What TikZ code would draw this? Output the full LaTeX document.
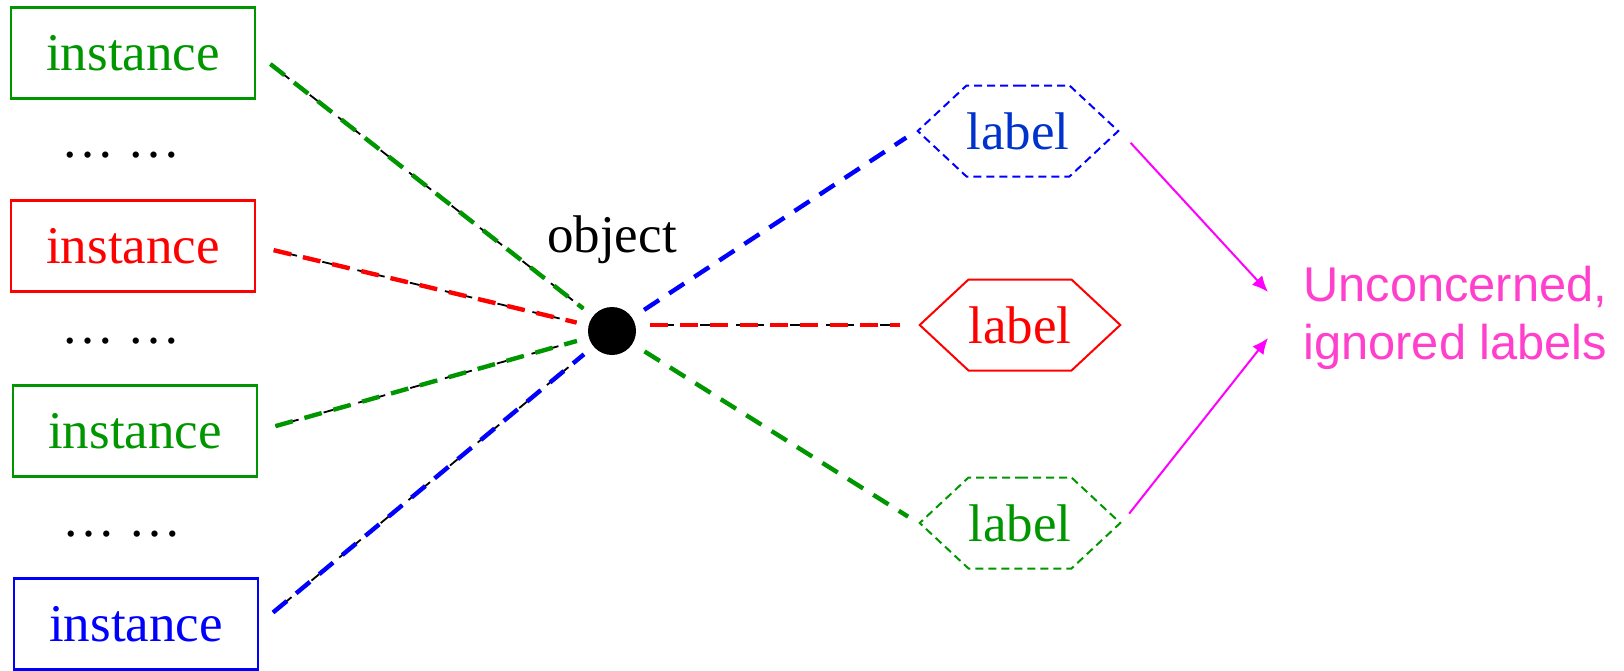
\documentclass[tikz,border=0pt]{standalone}
\usepackage{fontspec}
\setmainfont{Liberation Serif}
\newfontfamily\notefont{Liberation Sans}
\usetikzlibrary{shapes.symbols,arrows.meta,positioning}

\definecolor{insgreen}{RGB}{0,150,0}
\definecolor{insblue}{RGB}{0,0,255}
\definecolor{insred}{RGB}{255,0,0}
\definecolor{lblblue}{RGB}{0,51,204}
\definecolor{arrowpink}{RGB}{255,0,255}
\definecolor{notepink}{RGB}{255,64,204}

\tikzset{
  instbox/.style={draw=#1, text=#1, line width=1.2pt, minimum width=122pt, minimum height=45.5pt, inner sep=0pt},
  lblhex/.style={signal, signal to=east and west, signal pointer angle=86, draw=#1, line width=1pt, minimum width=99pt, minimum height=45.5pt, inner sep=0pt},
  tie/.style={dash pattern=on 9pt off 6pt, line width=2.2pt},
  under/.style={black, dash pattern=on 5pt off 4pt, dash phase=2pt, line width=0.9pt},
  pointer/.style={arrowpink, line width=1pt, -{Latex[length=8pt,width=7pt]}},
}

\begin{document}
\begin{tikzpicture}[x=0.5pt, y=-0.5pt, font=\fontsize{26.5pt}{30pt}\selectfont]
    \useasboundingbox (0,0) rectangle (1624,670);

    % Instances
    \node[instbox=insgreen] (insta) at (133,53) {instance};
    \node[instbox=insred] (instb) at (133,246) {instance};
    \node[instbox=insgreen] (instc) at (135,431) {instance};
    \node[instbox=insblue] (instd) at (136,624) {instance};

    % Dots between instances
    \node[anchor=base, inner sep=0pt] (dotsa) at (121,157) {\ldots\ \ldots};
    \node[anchor=base, inner sep=0pt] (dotsb) at (121,343) {\ldots\ \ldots};
    \node[anchor=base, inner sep=0pt] (dotsc) at (122,536) {\ldots\ \ldots};

    % Object
    \node[circle, fill=black, minimum size=24pt, inner sep=0pt] (obj) at (612,331) {};
    \node[above=21pt of obj, inner sep=0pt] (objname) {object};

    % Instances to object
    \foreach \src/\col in {insta/insgreen, instb/insred, instc/insgreen, instd/insblue}
    {
        \draw[under, shorten <=9pt, shorten >=6pt] (\src.east) -- (obj);
        \draw[tie, \col, shorten <=9pt, shorten >=6pt] (\src.east) -- (obj);
    }

    % Labels
    \node[lblhex=insblue, dash pattern=on 4pt off 2.5pt, text=lblblue] (lbla) at (1018,131) {label};
    \node[lblhex=insred, text=insred] (lblb) at (1020,325) {label};
    \node[lblhex=insgreen, dash pattern=on 4pt off 2.5pt, text=insgreen] (lblc) at (1020,523) {label};

    % Object to labels
    \draw[tie, insblue, shorten <=7pt, shorten >=6pt] (obj) -- (lbla.west);
    \draw[under, shorten <=7pt, shorten >=9pt] (obj.east |- lblb.west) -- (lblb.west);
    \draw[tie, insred, shorten <=7pt, shorten >=9pt] (obj.east |- lblb.west) -- (lblb.west);
    \draw[tie, insgreen, shorten <=7pt, shorten >=6pt] (obj) -- (lblc.west);

    % Note on ignored labels
    \node[anchor=west, align=left, inner sep=0pt, text=notepink, font=\notefont\fontsize{24.4pt}{29pt}\selectfont] (note) at (1303,318) {Unconcerned,\\ignored labels};
    \coordinate (tipa) at ([shift={(-35,-26)}]note.west);
    \coordinate (tipb) at ([shift={(-35,20)}]note.west);
    \draw[pointer, shorten <=8pt] (lbla.east) -- (tipa);
    \draw[pointer, shorten <=6pt] (lblc.east) -- (tipb);

\end{tikzpicture}
\end{document}
